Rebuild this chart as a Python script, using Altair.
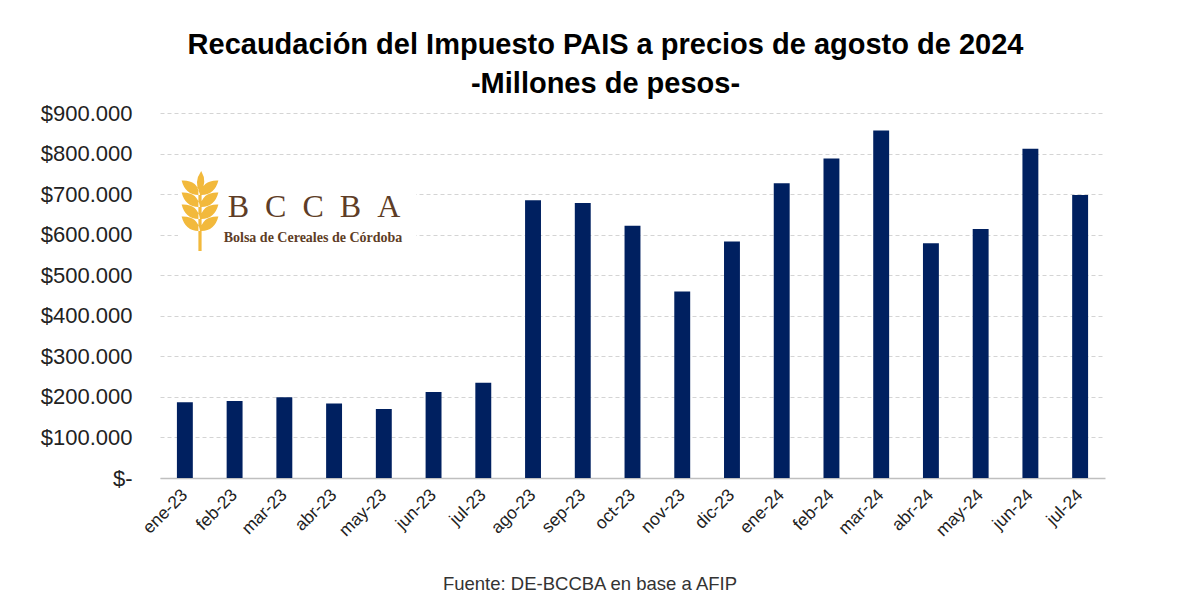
import altair as alt
import pandas as pd

meses = ["ene-23", "feb-23", "mar-23", "abr-23", "may-23", "jun-23", "jul-23",
         "ago-23", "sep-23", "oct-23", "nov-23", "dic-23", "ene-24", "feb-24",
         "mar-24", "abr-24", "may-24", "jun-24", "jul-24"]
recaudacion = [187000, 190000, 199000, 184000, 170000, 212000, 235000,
               685000, 678000, 622000, 460000, 583000, 727000, 788000,
               857000, 579000, 614000, 812000, 698000]
y_ticks = [0, 100000, 200000, 300000, 400000, 500000, 600000, 700000, 800000, 900000]

titulo = ["Recaudación del Impuesto PAIS a precios de agosto de 2024", "-Millones de pesos-"]
fuente = "Fuente: DE-BCCBA en base a AFIP"

df = pd.DataFrame({"mes": meses, "valor": recaudacion})
one = pd.DataFrame({"k": [0]})

W, H = 945, 365

bars = alt.Chart(df).mark_bar(color="#002060").encode(
    x=alt.X("mes:N", sort=meses,
            scale=alt.Scale(paddingInner=0.68, paddingOuter=0.34),
            axis=alt.Axis(title=None, labelAngle=-45, labelFontSize=17.5,
                          labelFont="Liberation Sans", labelColor="#222222",
                          labelBaseline="middle", labelPadding=14, ticks=False,
                          domainColor="#bfbfbf", domainWidth=1.5, grid=False)),
    y=alt.Y("valor:Q", scale=alt.Scale(domain=[0, 900000], nice=False),
            axis=alt.Axis(title=None, values=y_ticks, grid=True, gridColor="#d4d4d4",
                          gridDash=[4, 3], gridWidth=1, domain=False, ticks=False,
                          labelFontSize=22, labelFont="Liberation Sans",
                          labelColor="#222222", labelPadding=28,
                          labelExpr="datum.value == 0 ? '$-' : '$' + format(datum.value / 1000, 'd') + '.000'"))
)

# logo
logo_bg = alt.Chart(one).mark_rect(color="white").encode(
    x=alt.value(18), x2=alt.value(256), y=alt.value(52), y2=alt.value(138))

leaf_parts = ["M -0.04 1 L 0.04 1 L 0.04 -0.5 L -0.04 -0.5 Z",
              "M 0 -0.42 Q 0.2 -0.72 0.03 -1 Q -0.17 -0.72 0 -0.42 Z"]
for y0 in [-0.40, -0.10, 0.20, 0.50]:
    leaf_parts.append(f"M 0 {y0} Q 0.36 {y0+0.02:.2f} 0.46 {y0-0.36:.2f} Q 0.06 {y0-0.38:.2f} 0 {y0} Z")
    leaf_parts.append(f"M 0 {y0} Q -0.36 {y0+0.02:.2f} -0.46 {y0-0.36:.2f} Q -0.06 {y0-0.38:.2f} 0 {y0} Z")
wheat_path = " ".join(leaf_parts)

wheat = alt.Chart(one).mark_point(shape=wheat_path, filled=True, color="#f2b93c",
                                  opacity=1, strokeWidth=0).encode(
    x=alt.value(40), y=alt.value(98), size=alt.value(6400))

logo_big = alt.Chart(one).mark_text(text="B\u2002C\u2002C\u2002B\u2002A", font="Liberation Serif",
                                    fontSize=32, color="#5e3d26", align="center",
                                    baseline="alphabetic").encode(
    x=alt.value(154), y=alt.value(104))
logo_small = alt.Chart(one).mark_text(text="Bolsa de Cereales de Córdoba", font="Liberation Serif",
                                      fontSize=14, fontWeight="bold", color="#5e3d26",
                                      align="center", baseline="alphabetic").encode(
    x=alt.value(153), y=alt.value(129))

nota = alt.Chart(one).mark_text(text=fuente, font="Liberation Sans", fontSize=18.5,
                                color="#333333", align="center", baseline="alphabetic").encode(
    x=alt.value(430), y=alt.value(477))

chart = alt.layer(bars, logo_bg, wheat, logo_big, logo_small, nota).properties(
    width=W, height=H, background="white",
    title=alt.TitleParams(text=titulo, anchor="middle", fontSize=29, font="Liberation Sans",
                          fontWeight="bold", color="#000000", lineHeight=39, offset=3, dx=-27),
    autosize=alt.AutoSizeParams(type="none"),
    padding={"left": 160, "top": 113, "right": 95, "bottom": 126}
).configure_view(stroke=None, strokeWidth=0)

chart.save("out.html", embed_options={"renderer": "svg", "actions": False})
